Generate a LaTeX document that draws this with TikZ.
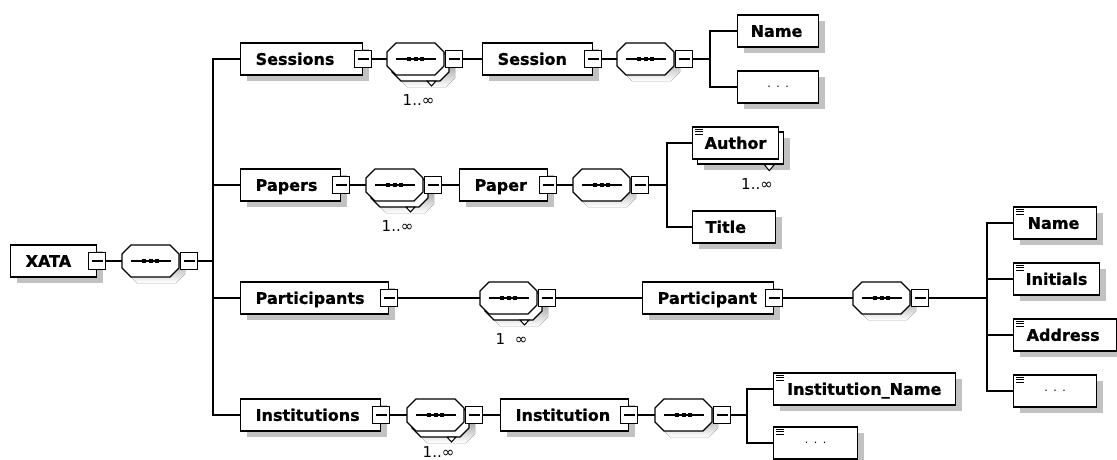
\documentclass[tikz,border=0pt]{standalone}
\usepackage{fontspec}
\newfontfamily\djv{DejaVu Sans}[BoldFeatures={FakeBold=0.9}]
\usetikzlibrary{shadows}
\definecolor{shade}{gray}{0.76}

\tikzset{
  conn/.style={line width=1.3pt},
  sh/.style={drop shadow={shadow xshift=6pt, shadow yshift=-6pt, fill=shade, opacity=1}},
  elembox/.style={draw, line width=1.3pt, fill=white, minimum height=32pt,
    inner xsep=0pt, inner ysep=0pt, anchor=west, align=left,
    text height=11.7pt, text depth=0pt, font=\djv\bfseries\fontsize{16}{19}\selectfont},
  dotbox/.style={elembox, align=center, text height=1.5pt, text depth=1.5pt,
    font=\djv\fontsize{11}{13}\selectfont},
  msq/.style={draw, line width=1.2pt, fill=white, minimum size=17pt, inner sep=0pt,
    path picture={\draw[line width=1.1pt] ([xshift=3pt]path picture bounding box.west)
      -- ([xshift=-3pt]path picture bounding box.east);}},
  seqbase/.style={minimum width=57pt, minimum height=32pt, inner sep=0pt, outer sep=0pt, anchor=west},
  mult/.style={font=\djv\fontsize{15}{17}\selectfont, inner sep=0pt},
  seqline/.style={line width=1.3pt},
}

% element box: [extra style]{name}{left x}{line y}{width}{text inset}{label}
\newcommand\elem[7][sh]{%
  \pgfmathsetmacro\tw{#5-2*#6}%
  \node[elembox, #1, minimum width=#5, text width=\tw pt] (#2) at (#3,#4) {#7};}
% element box with a collapse square on its right edge
\newcommand\elemm[7][sh]{%
  \elem[#1]{#2}{#3}{#4}{#5}{#6}{#7}%
  \node[msq] (#2-m) at (#2.east) {};}
% placeholder child box
\newcommand\dotsleaf[5][sh]{%
  \pgfmathsetmacro\tw{#5-28}%
  \node[dotbox, #1, minimum width=#5, text width=\tw pt] (#2) at (#3,#4) {. . .};}
% simple-content marker in the top left corner of a box
\newcommand\icon[1]{%
  \foreach \k in {3,5.5,8}{\draw[line width=1pt] ([xshift=3pt,yshift=-\k pt]#1.north west) -- ++(8,0);}}

% octagon outline around a sequence node, shifted by (#2,#3) in canvas units
\newcommand\octpath[3]{([xshift=#2+9pt,yshift=#3]#1.north west) -- ([xshift=#2-9pt,yshift=#3]#1.north east)
  -- ([xshift=#2,yshift=#3-9pt]#1.north east) -- ([xshift=#2,yshift=#3+9pt]#1.south east)
  -- ([xshift=#2-9pt,yshift=#3]#1.south east) -- ([xshift=#2+9pt,yshift=#3]#1.south west)
  -- ([xshift=#2,yshift=#3+9pt]#1.south west) -- ([xshift=#2,yshift=#3-9pt]#1.north west) -- cycle}
\newcommand\seqcore[1]{%
  \draw[seqline, fill=white] \octpath{#1}{0pt}{0pt};
  \draw[line width=1.2pt] ([xshift=-20pt]#1.center) -- ([xshift=20pt]#1.center);
  \foreach \k in {-6.5,0,6.5}{\fill ([xshift=\k pt]#1.center) +(-2,-2) rectangle +(2,2);}
  \node[msq, anchor=west] (#1-m) at ([xshift=1pt]#1.east) {};}
% single sequence compositor
\newcommand\seqone[3]{%
  \node[seqbase] (#1) at (#2,#3) {};
  \fill[shade] \octpath{#1}{6pt}{-6pt};
  \seqcore{#1}}
% repeated sequence compositor with its occurrence label (#5: label drop)
\newcommand\seqmany[5]{%
  \node[seqbase] (#1) at (#2,#3) {};
  \fill[shade] \octpath{#1}{11pt}{-12pt};
  \draw[seqline, fill=white] \octpath{#1}{5pt}{-6pt};
  \draw[line width=1pt, fill=white] ([xshift=40pt,yshift=-6pt]#1.south west)
    -- ([xshift=49pt,yshift=-6pt]#1.south west) -- ([xshift=44.5pt,yshift=-11pt]#1.south west) -- cycle;
  \seqcore{#1}
  \node[mult] (#1-n) at ([xshift=3pt,yshift=-#5pt]#1.center) {#4};}

\begin{document}
\begin{tikzpicture}[x=1pt, y=-1pt]
\useasboundingbox (0,0) rectangle (1117,459);
\clip (0,0) rectangle (1117,459);
\fill[white] (0,0) rectangle (1117,459);

% ---------- root ----------
\elemm{xata}{10}{261}{86}{15}{XATA}
\seqone{xseq}{122}{261}
\coordinate (xbus) at (213,261);

% ---------- Sessions ----------
\elemm{sessions}{240}{59}{122}{15}{Sessions}
\seqmany{sseq}{387}{59}{1..∞}{41}
\elemm{session}{482}{59}{110}{15}{Session}
\seqone{sseq2}{617}{59}
\coordinate (sbus) at (710,59);
\elem{sname}{737}{31}{81}{13}{Name}
\dotsleaf{sdots}{737}{87}{81}

% ---------- Papers ----------
\elemm{papers}{240}{185}{100}{15}{Papers}
\seqmany{pseq}{366}{185}{1..∞}{41}
\elemm{paper}{459}{185}{88}{15}{Paper}
\seqone{pseq2}{573}{185}
\coordinate (pbus) at (667,185);
\node[elembox, sh, minimum width=86] (author-b) at (697,148) {};
\draw[line width=1pt, fill=white] ([xshift=-20pt]author-b.south east)
  -- ([xshift=-10pt]author-b.south east) -- ([xshift=-15pt,yshift=-6pt]author-b.south east) -- cycle;
\elem[]{author}{692}{143}{86}{12}{Author}
\icon{author}
\node[mult] (author-n) at (757,184) {1..∞};
\elem{title}{692}{227}{83}{13}{Title}

% ---------- Participants ----------
\elemm{participants}{240}{298}{148}{15}{Participants}
\seqmany{aseq}{480}{298}{1\hspace{9.5pt}∞}{41}
\elemm{participant}{642}{298}{131}{15}{Participant}
\seqone{aseq2}{853}{298}
\coordinate (abus) at (987,298);
\elem{aname}{1013}{223}{83}{14}{Name}\icon{aname}
\elem{ainit}{1013}{279}{86}{12}{Initials}\icon{ainit}
\elem{aaddr}{1013}{335}{103}{13}{Address}\icon{aaddr}
\dotsleaf{adots}{1013}{391}{83}\icon{adots}

% ---------- Institutions ----------
\elemm{institutions}{240}{415}{140}{15}{Institutions}
\seqmany{iseq}{407}{415}{1..∞}{37}
\elemm{institution}{500}{415}{128}{15}{Institution}
\seqone{iseq2}{655}{415}
\coordinate (ibus) at (747,415);
\elem{iname}{773}{389}{182}{13.5}{Institution\_Name}\icon{iname}
\dotsleaf{idots}{773}{443}{84}\icon{idots}

% ---------- connectors ----------
\draw[conn] (xata-m.east) -- (xseq.west);
\draw[conn] (xseq-m.east) -- (xbus);
\foreach \c in {sessions,papers,participants,institutions}{\draw[conn] (xbus) |- (\c.west);}

\draw[conn] (sessions-m.east) -- (sseq.west);
\draw[conn] (sseq-m.east) -- (session.west);
\draw[conn] (session-m.east) -- (sseq2.west);
\draw[conn] (sseq2-m.east) -- (sbus);
\draw[conn] (sbus) |- (sname.west);
\draw[conn] (sbus) |- (sdots.west);

\draw[conn] (papers-m.east) -- (pseq.west);
\draw[conn] (pseq-m.east) -- (paper.west);
\draw[conn] (paper-m.east) -- (pseq2.west);
\draw[conn] (pseq2-m.east) -- (pbus);
\draw[conn] (pbus) |- (author.west);
\draw[conn] (pbus) |- (title.west);

\draw[conn] (participants-m.east) -- (aseq.west);
\draw[conn] (aseq-m.east) -- (participant.west);
\draw[conn] (participant-m.east) -- (aseq2.west);
\draw[conn] (aseq2-m.east) -- (abus);
\foreach \c in {aname,ainit,aaddr,adots}{\draw[conn] (abus) |- (\c.west);}

\draw[conn] (institutions-m.east) -- (iseq.west);
\draw[conn] (iseq-m.east) -- (institution.west);
\draw[conn] (institution-m.east) -- (iseq2.west);
\draw[conn] (iseq2-m.east) -- (ibus);
\draw[conn] (ibus) |- (iname.west);
\draw[conn] (ibus) |- (idots.west);
\end{tikzpicture}
\end{document}
